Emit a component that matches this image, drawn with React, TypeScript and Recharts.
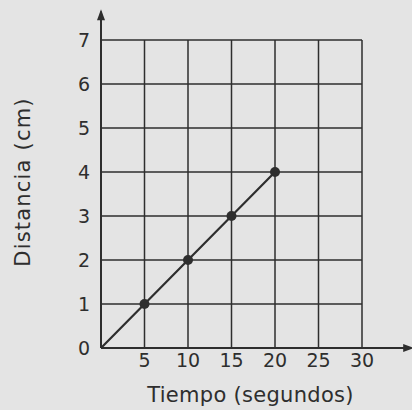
import { ComposedChart, Line, XAxis, YAxis, CartesianGrid, ReferenceLine, ReferenceDot } from "recharts";

const tiempo = [0, 5, 10, 15, 20];
const distancia = [0, 1, 2, 3, 4];
const xTicks = [0, 5, 10, 15, 20, 25, 30];
const yTicks = [0, 1, 2, 3, 4, 5, 6, 7];

const ink = "#2e2e2e";
const font = "'DejaVu Sans', sans-serif";

const data = tiempo.map((t, i) => ({ t, d: distancia[i] }));

const ArrowRight = (p: any) => (
  <polygon points={`${p.cx},${p.cy} ${p.cx - 11},${p.cy - 4} ${p.cx - 11},${p.cy + 4}`} fill={ink} />
);
const ArrowUp = (p: any) => (
  <polygon points={`${p.cx},${p.cy} ${p.cx - 4},${p.cy + 11} ${p.cx + 4},${p.cy + 11}`} fill={ink} />
);

const dot = (p: any) =>
  p.payload.t === 0 ? <g key={p.index} /> : <circle key={p.index} cx={p.cx} cy={p.cy} r={5} fill={ink} />;

const YTitle = (p: any) => {
  const vb = p.viewBox || {};
  const cx = 23;
  const cy = (vb.y ?? 40) + (vb.height ?? 308) / 2 - 12;
  return (
    <text
      x={cx}
      y={cy}
      transform={`rotate(-90 ${cx} ${cy})`}
      textAnchor="middle"
      dominantBaseline="central"
      fill={ink}
      fontSize={21}
      letterSpacing={1.2}
      fontFamily={font}
    >
      Distancia (cm)
    </text>
  );
};

const XTitle = (p: any) => {
  const vb = p.viewBox || {};
  const cx = (vb.x ?? 101) + (vb.width ?? 261) / 2 + 19;
  return (
    <text x={cx} y={402} textAnchor="middle" fill={ink} fontSize={21} letterSpacing={0.3} fontFamily={font}>
      Tiempo (segundos)
    </text>
  );
};

export default function App() {
  return (
    <div style={{ position: "fixed", left: 0, top: 0, width: 412, height: 410, background: "#e4e4e4" }}>
      <ComposedChart width={412} height={410} data={data} margin={{ top: 40, right: 50, bottom: 0, left: 61 }}>
        <CartesianGrid stroke={ink} strokeWidth={1.5} horizontalValues={yTicks} verticalValues={xTicks} />
        <XAxis
          dataKey="t"
          type="number"
          domain={[0, 30]}
          ticks={xTicks}
          tickFormatter={(v) => (v === 0 ? "" : String(v))}
          axisLine={false}
          tickLine={false}
          tickSize={0}
          tickMargin={6}
          height={62}
          tick={{ fill: ink, fontSize: 19, fontFamily: font }}
          interval={0}
          label={<XTitle />}
        />
        <YAxis
          type="number"
          domain={[0, 7]}
          ticks={yTicks}
          axisLine={false}
          tickLine={false}
          tickSize={0}
          tickMargin={11}
          width={40}
          interval={0}
          tick={{ fill: ink, fontSize: 19, fontFamily: font }}
          label={<YTitle />}
        />
        <ReferenceLine segment={[{ x: 0, y: 0 }, { x: 35.5, y: 0 }]} stroke={ink} strokeWidth={2} ifOverflow="visible" />
        <ReferenceLine segment={[{ x: 0, y: 0 }, { x: 0, y: 7.65 }]} stroke={ink} strokeWidth={2} ifOverflow="visible" />
        <ReferenceDot x={36} y={0} ifOverflow="visible" shape={ArrowRight} />
        <ReferenceDot x={0} y={7.7} ifOverflow="visible" shape={ArrowUp} />
        <Line dataKey="d" stroke={ink} strokeWidth={2.2} dot={dot} isAnimationActive={false} />
      </ComposedChart>
    </div>
  );
}
